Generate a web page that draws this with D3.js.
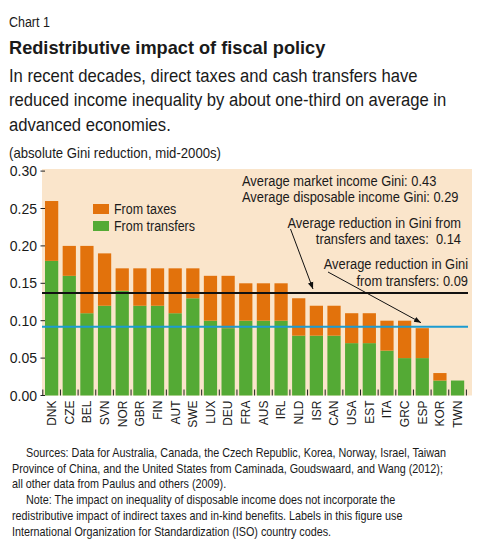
<!DOCTYPE html>
<html>
<head>
<meta charset="utf-8">
<script src="https://cdn.jsdelivr.net/npm/d3@7"></script>
<style>
  body { margin: 0; background: #fff; }
  svg text { fill: #1a1a1a; font-family: "Liberation Sans", Arial, sans-serif; }
</style>
</head>
<body>
<div id="chart"></div>
<script>

// chart values
var countries = ["DNK", "CZE", "BEL", "SVN", "NOR", "GBR", "FIN", "AUT", "SWE", "LUX", "DEU", "FRA",
                 "AUS", "IRL", "NLD", "ISR", "CAN", "USA", "EST", "ITA", "GRC", "ESP", "KOR", "TWN"];
var fromTransfers = [0.18, 0.16, 0.11, 0.12, 0.14, 0.12, 0.12, 0.11, 0.13, 0.10, 0.09, 0.10,
                     0.10, 0.10, 0.08, 0.08, 0.08, 0.07, 0.07, 0.06, 0.05, 0.05, 0.02, 0.02];
var fromTaxes = [0.08, 0.04, 0.09, 0.07, 0.03, 0.05, 0.05, 0.06, 0.04, 0.06, 0.07, 0.05,
                 0.05, 0.05, 0.05, 0.04, 0.04, 0.04, 0.04, 0.04, 0.05, 0.04, 0.01, 0.00];
var yTicks = [0, 0.05, 0.10, 0.15, 0.20, 0.25, 0.30];
var avgTotal = 0.137;      // transfers and taxes
var avgTransfers = 0.092;  // transfers only

var seriesKeys = ["transfers", "taxes"];
var seriesLabels = { taxes: "From taxes", transfers: "From transfers" };

var colors = { taxes: "#e2720c", transfers: "#54aa35" };

var width = 500, height = 548;

var svg = d3.select("#chart").append("svg")
    .attr("width", width)
    .attr("height", height);

// the original face is a condensed gothic, so squeeze the text a little sideways
function label(parent, x, y, str, size, squeeze, anchor) {
    return parent.append("text")
        .attr("transform", "translate(" + x + "," + y + ") scale(" + squeeze + ",1)")
        .attr("text-anchor", anchor || "start")
        .style("font-size", size + "px")
        .style("white-space", "pre")
        .text(str);
}

// header texts
label(svg, 9, 27, "Chart 1", 14, 0.89);
label(svg, 9, 54, "Redistributive impact of fiscal policy", 18.2, 1)
    .style("font-weight", "bold");

var subtitle = ["In recent decades, direct taxes and cash transfers have",
                "reduced income inequality by about one-third on average in",
                "advanced economies."];
subtitle.forEach(function (d, i) {
    label(svg, 9, 82 + i * 24.4, d, 18.5, 0.9);
});

label(svg, 9, 157.5, "(absolute Gini reduction, mid-2000s)", 14, 0.94);

// plot panel
var panel = { left: 42, right: 472, top: 169, bottom: 395.5 };

svg.append("rect")
    .attr("x", panel.left).attr("y", panel.top)
    .attr("width", panel.right - panel.left)
    .attr("height", panel.bottom - panel.top)
    .attr("fill", "#fae5cb");

var x = d3.scaleBand()
    .domain(countries)
    .range([42.8, 42.8 + 24 * 17.65])
    .paddingInner(0.25)
    .paddingOuter(0.125);

var y = d3.scaleLinear()
    .domain([0, 0.30])
    .range([panel.bottom, panel.bottom - 0.30 * 748]);

var table = countries.map(function (c, i) {
    return { country: c, transfers: fromTransfers[i], taxes: fromTaxes[i] };
});

var stacked = d3.stack().keys(seriesKeys)(table);

svg.selectAll("g.series")
    .data(stacked)
    .enter().append("g")
    .attr("class", "series")
    .attr("fill", function (d) { return colors[d.key]; })
    .selectAll("rect")
    .data(function (d) { return d; })
    .enter().append("rect")
    .attr("x", function (d) { return x(d.data.country); })
    .attr("y", function (d) { return y(d[1]); })
    .attr("width", x.bandwidth())
    .attr("height", function (d) { return y(d[0]) - y(d[1]); });

// y axis: labels and short ticks
var yAxis = svg.append("g");
yAxis.selectAll("line")
    .data(yTicks)
    .enter().append("line")
    .attr("x1", 40.5).attr("x2", 45)
    .attr("y1", function (d) { return y(d); })
    .attr("y2", function (d) { return y(d); })
    .attr("stroke", "#222").attr("stroke-width", 1);
yAxis.selectAll("text")
    .data(yTicks)
    .enter().append("text")
    .attr("x", 37)
    .attr("y", function (d) { return y(d); })
    .attr("dy", "0.36em")
    .attr("text-anchor", "end")
    .style("font-size", "14px")
    .text(d3.format(".2f"));

// x axis: ticks between the bars, rotated labels
var bounds = d3.range(countries.length + 1).map(function (i) { return x.range()[0] + i * x.step(); });
svg.append("g").selectAll("line")
    .data(bounds)
    .enter().append("line")
    .attr("x1", function (d) { return d; })
    .attr("x2", function (d) { return d; })
    .attr("y1", panel.bottom - 6).attr("y2", panel.bottom)
    .attr("stroke", "#222").attr("stroke-width", 1);

svg.append("g").selectAll("text")
    .data(countries)
    .enter().append("text")
    .attr("transform", function (d) {
        return "translate(" + (x(d) + x.bandwidth() / 2) + "," + (panel.bottom + 5) + ") rotate(-90)";
    })
    .attr("dy", "0.36em")
    .attr("text-anchor", "end")
    .style("font-size", "12px")
    .text(function (d) { return d; });

// average lines
svg.append("line")
    .attr("x1", panel.left).attr("x2", 468)
    .attr("y1", y(avgTotal)).attr("y2", y(avgTotal))
    .attr("stroke", "#111").attr("stroke-width", 2);
svg.append("line")
    .attr("x1", panel.left).attr("x2", 468)
    .attr("y1", y(avgTransfers)).attr("y2", y(avgTransfers))
    .attr("stroke", "#1b9bd1").attr("stroke-width", 2);

// legend
var legend = svg.selectAll("g.legendEntry")
    .data(["taxes", "transfers"])
    .enter().append("g")
    .attr("class", "legendEntry")
    .attr("transform", function (d, i) { return "translate(93," + (204 + i * 17) + ")"; });
legend.append("rect")
    .attr("width", 16).attr("height", 10)
    .attr("fill", function (d) { return colors[d]; });
legend.each(function (d) {
    label(d3.select(this), 21, 10.3, seriesLabels[d], 14, 0.89);
});

// annotations
svg.append("defs").append("marker")
    .attr("id", "arrow")
    .attr("viewBox", "0 0 10 10")
    .attr("refX", 10).attr("refY", 5)
    .attr("markerWidth", 7).attr("markerHeight", 7)
    .attr("orient", "auto")
    .append("path")
    .attr("d", "M0,1 L10,5 L0,9 z")
    .attr("fill", "#111");

var notes = [
    { lines: ["Average market income Gini: 0.43", "Average disposable income Gini: 0.29"], x: 242, y: 185.5, anchor: "start" },
    { lines: ["Average reduction in Gini from", "transfers and taxes:  0.14"], x: 461, y: 227.5, anchor: "end" },
    { lines: ["Average reduction in Gini", "from transfers: 0.09"], x: 468, y: 269, anchor: "end" }
];
notes.forEach(function (n) {
    n.lines.forEach(function (line, i) {
        label(svg, n.x, n.y + i * 16.5, line, 14, 0.92, n.anchor);
    });
});

svg.append("line")
    .attr("x1", 290.5).attr("y1", 229)
    .attr("x2", 313).attr("y2", y(avgTotal) - 4)
    .attr("stroke", "#111").attr("stroke-width", 1)
    .attr("marker-end", "url(#arrow)");
svg.append("line")
    .attr("x1", 328).attr("y1", 272)
    .attr("x2", 421).attr("y2", y(avgTransfers) - 4)
    .attr("stroke", "#111").attr("stroke-width", 1)
    .attr("marker-end", "url(#arrow)");

// footnotes
var footnotes = [
    { t: "Sources: Data for Australia, Canada, the Czech Republic, Korea, Norway, Israel, Taiwan", indent: true },
    { t: "Province of China, and the United States from Caminada, Goudswaard, and Wang (2012);", indent: false },
    { t: "all other data from Paulus and others (2009).", indent: false },
    { t: "Note: The impact on inequality of disposable income does not incorporate the", indent: true },
    { t: "redistributive impact of indirect taxes and in-kind benefits. Labels in this figure use", indent: false },
    { t: "International Organization for Standardization (ISO) country codes.", indent: false }
];
footnotes.forEach(function (d, i) {
    label(svg, d.indent ? 26 : 12, 457 + i * 15.7, d.t, 12, 0.9);
});

</script>
</body>
</html>
